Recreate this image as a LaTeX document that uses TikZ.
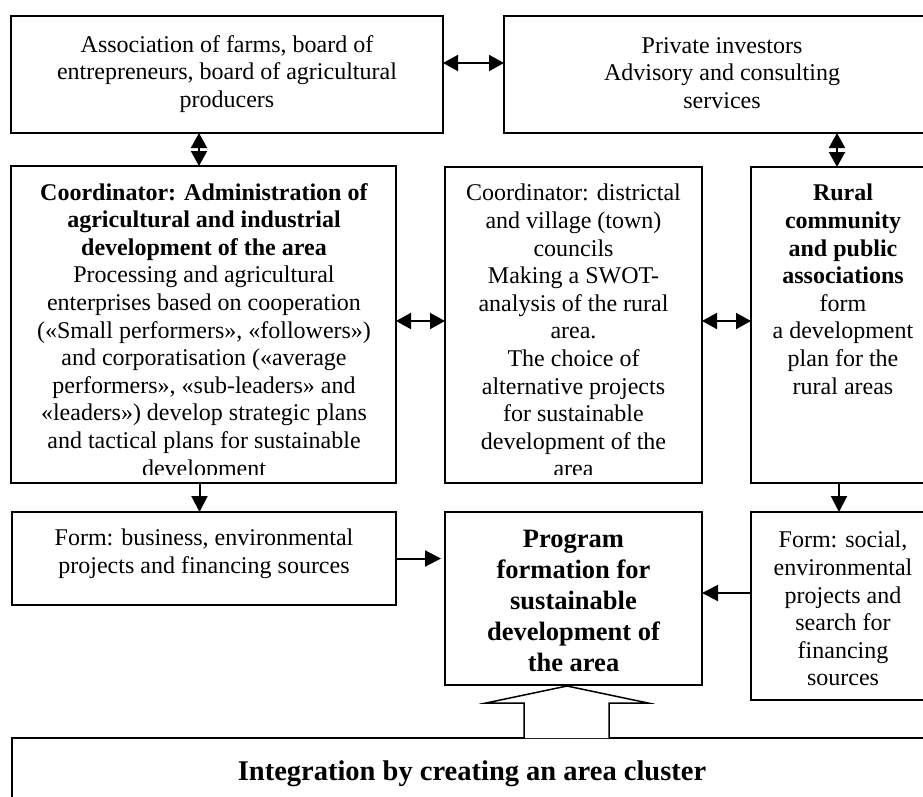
\documentclass[tikz,border=0pt]{standalone}
\usepackage{fontspec}
\setmainfont{Liberation Serif}
\usetikzlibrary{arrows.meta}
\tikzset{
  box/.style={draw, line width=1.6pt, rectangle, inner sep=0pt, outer sep=0pt},
  txt/.style={align=center, inner sep=0pt, anchor=north, font=\fontsize{24}{27.6}\selectfont},
  arr/.style={line width=2pt, -{Triangle[length=16pt,width=16pt]}},
  dbl/.style={line width=2pt, {Triangle[length=15pt,width=16pt]}-{Triangle[length=15pt,width=16pt]}},
}
\begin{document}
\begin{tikzpicture}[x=1pt,y=-1pt]
\useasboundingbox (0,0) rectangle (923,796);
\clip (0,0) rectangle (923,796);
\fill[white] (0,0) rectangle (923,796);

% boxes
\node[box, minimum width=432, minimum height=117] (assoc) at (227,74.5) {};
\node[box, minimum width=436, minimum height=117] (invest) at (722,74.5) {};
\node[box, minimum width=385, minimum height=317] (coordL) at (203.5,324.5) {};
\node[box, minimum width=257, minimum height=316] (coordM) at (573.5,325) {};
\node[box, minimum width=184, minimum height=316] (rural) at (843,325) {};
\node[box, minimum width=384, minimum height=93] (formL) at (204,558.5) {};
\node[box, minimum width=257, minimum height=173] (program) at (573.5,598.5) {};
\node[box, minimum width=184, minimum height=188] (formR) at (843,606) {};
\node[box, minimum width=923, minimum height=92] (integ) at (473.5,784) {};

% texts
\node[txt, anchor=center] (assoctext) at (227,74) {Association of farms, board of\\entrepreneurs, board of agricultural\\producers};
\node[txt, anchor=center] (investtext) at (722,73) {Private investors\\Advisory and consulting\\services};
\begin{scope}
\clip (11,166) rectangle (396,474);
\node[txt] (coordLtext) at (204,183) {\textbf{Coordinator: Administration of}\\\textbf{agricultural and industrial}\\\textbf{development of the area}\\Processing and agricultural\\enterprises based on cooperation\\(«Small performers», «followers»)\\and corporatisation («average\\performers», «sub-leaders» and\\«leaders») develop strategic plans\\and tactical plans for sustainable\\development};
\end{scope}
\begin{scope}
\clip (445,167) rectangle (702,474);
\node[txt] (coordMtext) at (573.5,184) {Coordinator: districtal\\and village (town)\\councils\\Making a SWOT-\\analysis of the rural\\area.\\The choice of\\alternative projects\\for sustainable\\development of the\\area};
\end{scope}
\node[txt] (ruraltext) at (843,184) {\textbf{Rural}\\\textbf{community}\\\textbf{and public}\\\textbf{associations}\\form\\a development\\plan for the\\rural areas};
\node[txt] (formLtext) at (204,529) {Form: business, environmental\\projects and financing sources};
\node[txt, font=\fontsize{26.5}{31}\selectfont\bfseries] (programtext) at (573.5,530) {Program\\formation for\\sustainable\\development of\\the area};
\node[txt] (formRtext) at (843,531) {Form: social,\\environmental\\projects and\\search for\\financing\\sources};
\node[txt, anchor=center, font=\fontsize{28.5}{33}\selectfont\bfseries] (integtext) at (472,774) {Integration by creating an area cluster};

% connectors
\draw[dbl] ([yshift=11.5pt]assoc.east) -- ([yshift=11.5pt]invest.west);
\draw[dbl] ([xshift=-4.5pt]coordL.north |- assoc.south) -- ([xshift=-4.5pt]coordL.north);
\draw[dbl] ([xshift=-6pt]rural.north |- invest.south) -- ([xshift=-6pt]rural.north);
\draw[dbl] ([yshift=3.5pt]coordL.east) -- ([yshift=3.5pt]coordL.east -| coordM.west);
\draw[dbl] ([yshift=4pt]coordM.east) -- ([yshift=4pt]rural.west);
\draw[arr] ([xshift=-4pt]coordL.south) -- ([xshift=-4pt]coordL.south |- formL.north);
\draw[arr] ([xshift=-4pt]rural.south) -- ([xshift=-4pt]formR.north);
\draw[arr, shorten >=4pt] (formL.east) -- (formL.east -| program.west);
\draw[arr] ([yshift=13pt]formR.west) -- ([yshift=13pt]formR.west -| program.east);

% hollow block arrow
\coordinate (tip) at (567,686);
\draw[line width=1.5pt, fill=white] (524,738) -- (524,703) -- (486,703) -- (tip) -- (648,703) -- (609,703) -- (609,738);
\end{tikzpicture}
\end{document}
